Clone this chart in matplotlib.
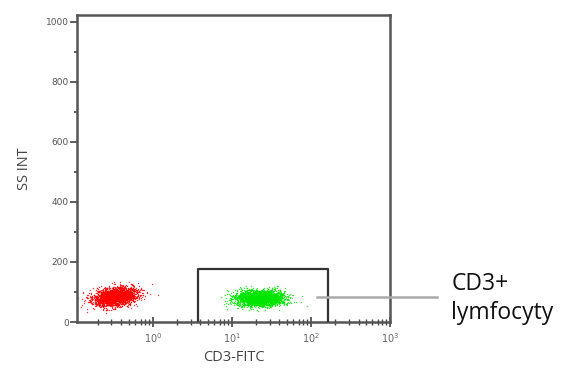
import numpy as np
import matplotlib
matplotlib.use("Agg")
import matplotlib.pyplot as plt

# ---- data ----
# cluster summaries: log10 centre of CD3-FITC, SS INT centre, spreads, event count
cluster_names = ["CD3- (red)", "CD3+ (green)"]
cluster_colors = ["#ff0000", "#00e600"]
cluster_logx_center = [-0.48, 1.35]
cluster_logx_sd = [0.14, 0.15]
cluster_y_center = [85, 80]
cluster_y_sd = [15, 13]
cluster_tilt = [30.0, 0.0]          # SS rises with FITC in red cluster
cluster_counts = [2200, 2600]

gate_x = [3.7, 166]                 # gate rectangle x-range
gate_y = [0, 177]                   # gate rectangle y-range
label_line_x = [120, 3900]
label_line_y = 83

y_ticks = [0, 200, 400, 600, 800, 1000]
x_tick_exps = [0, 1, 2, 3]
x_label = "CD3-FITC"
y_label = "SS INT"
annot_text = "CD3+\nlymfocyty"

# ---- figure ----
fig = plt.figure(figsize=(5.62, 3.74), dpi=100)
ax = fig.add_axes([0.137, 0.139, 0.557, 0.821])

rng = np.random.default_rng(3)
for c, lx, lsd, yc, ysd, tilt, n in zip(cluster_colors, cluster_logx_center, cluster_logx_sd,
                                         cluster_y_center, cluster_y_sd, cluster_tilt, cluster_counts):
    zx = rng.standard_normal(n)
    zy = rng.standard_normal(n)
    lxs = lx + lsd * zx
    ys = yc + ysd * zy + tilt * (lxs - lx)
    ax.scatter(10 ** lxs, ys, s=1.0, c=c, marker="o", linewidths=0, alpha=0.8, zorder=2)

ax.set_xscale("log")
ax.set_xlim(0.11, 1000)
ax.set_ylim(0, 1023)

# gate
ax.plot([gate_x[0], gate_x[0], gate_x[1], gate_x[1]],
        [gate_y[0], gate_y[1], gate_y[1], gate_y[0]],
        color="#333333", lw=1.6, zorder=3)

# label line
ax.plot(label_line_x, [label_line_y, label_line_y], color="#aaaaaa", lw=1.8,
        clip_on=False, zorder=4)
fig.text(0.803, 0.13, annot_text, fontsize=16.5, family="Open Sans",
         ha="left", va="bottom", linespacing=1.3, color="#111111")

for sp in ax.spines.values():
    sp.set_color("#555555")
    sp.set_linewidth(1.8)

ax.set_yticks(y_ticks)
ax.set_yticklabels([str(v) for v in y_ticks])
ax.set_yticks([100, 300, 500, 700, 900], minor=True)
ax.tick_params(axis="y", which="major", direction="out", length=5, width=1.2,
               color="#444444", labelsize=6.5, labelcolor="#555555", pad=1)
ax.tick_params(axis="y", which="minor", direction="out", length=2.5, width=1.2,
               color="#444444")

ax.set_xticks([10.0 ** e for e in x_tick_exps])
ax.set_xticklabels([f"$10^{{{e}}}$" for e in x_tick_exps])
ax.xaxis.set_minor_locator(matplotlib.ticker.LogLocator(base=10, subs=np.arange(2, 10), numticks=20))
ax.xaxis.set_minor_formatter(matplotlib.ticker.NullFormatter())
ax.tick_params(axis="x", which="major", direction="inout", length=7, width=1.2,
               color="#444444", labelsize=7, labelcolor="#666666", pad=3)
ax.tick_params(axis="x", which="minor", direction="inout", length=4, width=1.0,
               color="#444444")

ax.set_xlabel(x_label, fontsize=10.5, color="#444444", family="Open Sans", labelpad=4)
ax.set_ylabel(y_label, fontsize=10.5, color="#444444", family="Open Sans", labelpad=10)

fig.savefig("out.png", dpi=100, facecolor="white")
